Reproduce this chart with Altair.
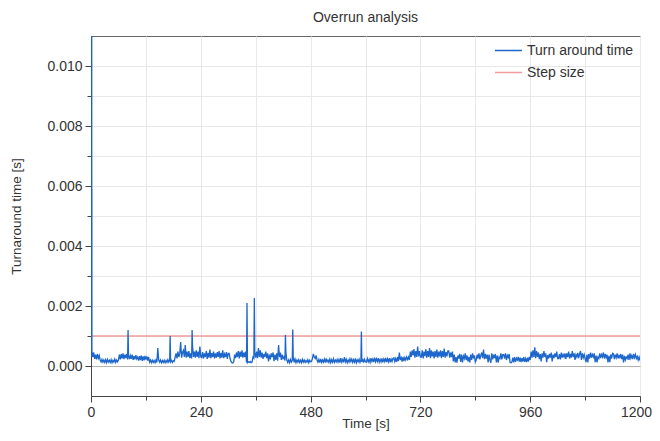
import altair as alt
import pandas as pd

# Turnaround time samples on a 2 s grid (t = 2, 4, ..., 1200), in microseconds; one row per minute
grid_start, grid_step = 2, 2
turnaround_us = [
    500, 300, 450, 240, 380, 220, 400, 260, 350, 200, 140, 220, 130, 200, 120, 210, 110, 220, 130, 190, 120, 210, 110, 190, 130, 230, 120, 200, 140, 210,
    380, 220, 400, 250, 420, 230, 380, 260, 400, 220, 360, 230, 350, 240, 380, 200, 330, 220, 360, 240, 300, 180, 330, 200, 350, 170, 320, 190, 340, 210,
    320, 180, 300, 130, 200, 110, 190, 120, 180, 110, 200, 120, 600, 200, 130, 200, 110, 180, 120, 190, 110, 180, 120, 210, 130, 200, 140, 190, 120, 180,
    160, 300, 420, 250, 480, 300, 420, 800, 280, 450, 520, 300, 700, 280, 480, 300, 500, 260, 420, 250, 650, 300, 480, 280, 520, 300, 480, 260, 650, 300,
    280, 460, 250, 420, 300, 500, 240, 440, 280, 550, 260, 430, 300, 480, 250, 420, 280, 460, 300, 500, 250, 440, 280, 520, 260, 400, 300, 460, 240, 420,
    420, 250, 150, 110, 100, 140, 380, 260, 450, 300, 500, 250, 480, 300, 520, 280, 450, 300, 480, 120, 110, 140, 120, 150, 110, 130, 300, 260, 450, 280,
    480, 260, 600, 300, 520, 280, 450, 240, 400, 300, 480, 260, 420, 150, 380, 220, 420, 300, 450, 160, 380, 200, 420, 180, 700, 300, 450, 200, 380, 250,
    300, 180, 450, 200, 120, 200, 110, 220, 130, 190, 300, 120, 230, 110, 200, 130, 210, 120, 190, 110, 220, 130, 200, 120, 180, 130, 210, 110, 190, 140,
    150, 250, 400, 300, 250, 350, 200, 130, 220, 110, 240, 120, 200, 130, 230, 110, 250, 140, 200, 120, 230, 110, 210, 130, 240, 120, 200, 140, 220, 130,
    220, 110, 260, 130, 210, 120, 300, 140, 220, 110, 200, 130, 240, 150, 230, 120, 210, 130, 250, 110, 200, 140, 230, 120, 210, 130, 240, 110, 220, 140,
    130, 250, 140, 220, 120, 260, 150, 230, 130, 280, 140, 240, 150, 260, 130, 220, 140, 250, 120, 230, 150, 270, 130, 240, 140, 260, 120, 230, 150, 250,
    270, 150, 250, 140, 300, 160, 450, 200, 280, 150, 300, 160, 280, 200, 300, 220, 300, 200, 480, 300, 520, 350, 560, 280, 500, 300, 650, 320, 500, 300,
    300, 520, 250, 480, 330, 560, 280, 500, 300, 600, 260, 520, 320, 480, 250, 500, 300, 550, 280, 480, 320, 520, 260, 500, 300, 580, 280, 460, 320, 500,
    500, 280, 450, 300, 480, 150, 380, 120, 300, 110, 350, 250, 400, 140, 380, 120, 330, 250, 420, 200, 350, 150, 300, 120, 380, 200, 420, 250, 350, 130,
    200, 380, 250, 420, 220, 350, 450, 260, 550, 230, 400, 250, 380, 120, 380, 200, 110, 420, 220, 380, 260, 400, 120, 350, 110, 300, 250, 420, 220, 380,
    380, 250, 420, 200, 350, 280, 400, 120, 110, 130, 280, 120, 300, 140, 260, 200, 300, 150, 280, 130, 260, 150, 300, 140, 250, 130, 280, 150, 300, 200,
    480, 280, 520, 300, 620, 260, 500, 300, 450, 230, 400, 150, 420, 280, 500, 300, 420, 130, 360, 250, 400, 280, 450, 150, 380, 260, 420, 300, 480, 250,
    250, 400, 220, 450, 280, 380, 300, 420, 240, 420, 300, 480, 250, 400, 280, 500, 300, 420, 200, 380, 300, 440, 260, 400, 500, 200, 420, 280, 380, 250,
    130, 380, 120, 400, 250, 450, 280, 380, 300, 420, 130, 350, 120, 300, 250, 420, 260, 380, 300, 450, 250, 400, 280, 380, 120, 340, 130, 380, 250, 420,
    400, 230, 380, 280, 420, 250, 350, 280, 400, 230, 380, 120, 340, 200, 300, 250, 380, 200, 420, 260, 350, 230, 400, 280, 380, 250, 320, 200, 300, 180,
]

# Isolated spikes (time in s, value in microseconds)
spike_times = [1.6, 1.75, 1.9, 81, 173, 221, 341, 357, 425, 441, 591]
spike_us = [11000, 300, 5900, 1200, 1000, 1200, 2100, 2270, 1030, 1220, 1150]

# Step size reference
step_times = [0, 1200]
step_values = [0.001, 0.001]

series_names = ["Turn around time", "Step size"]
series_colors = ["#1c66cc", "#f29c9c"]

rows = []
for i, v in enumerate(turnaround_us):
    rows.append({"t": grid_start + grid_step * i, "v": v / 1e6, "s": series_names[0]})
for t, v in zip(spike_times, spike_us):
    rows.append({"t": t, "v": v / 1e6, "s": series_names[0]})
for t, v in zip(step_times, step_values):
    rows.append({"t": t, "v": v, "s": series_names[1]})
df = pd.DataFrame(rows).sort_values(["s", "t"])

FONT = "Liberation Sans"

x_vals = list(range(0, 1201, 120))
y_vals = [i / 1000 for i in range(0, 11)]

chart = alt.Chart(df).mark_line(strokeWidth=1.3, clip=True).encode(
    x=alt.X("t:Q", title="Time [s]",
            scale=alt.Scale(domain=[0, 1200], nice=False, zero=False),
            axis=alt.Axis(values=x_vals,
                          labelExpr="datum.value % 240 === 0 ? format(datum.value, 'd') : ''",
                          tickSize=alt.expr("datum.value % 240 === 0 ? 6 : 4"),
                          labelOffset=alt.expr("datum.value === 1200 ? -4 : 0"),
                          grid=True, labelFlush=False, titlePadding=-3, zindex=0)),
    y=alt.Y("v:Q", title="Turnaround time [s]",
            scale=alt.Scale(domain=[-0.001, 0.011], nice=False, zero=False),
            axis=alt.Axis(values=y_vals,
                          labelExpr="round(datum.value*1000) % 2 === 0 ? format(datum.value, '.3f') : ''",
                          tickSize=alt.expr("round(datum.value*1000) % 2 === 0 ? 6 : 4"),
                          gridColor=alt.expr("abs(datum.value) < 1e-9 ? '#b0b0b0' : '#e8e8e8'"),
                          grid=True, titlePadding=23, zindex=0)),
    color=alt.Color("s:N", scale=alt.Scale(domain=series_names, range=series_colors),
                    legend=alt.Legend(title=None, orient="none", legendX=403, legendY=0,
                                      symbolType="stroke", symbolSize=729,
                                      symbolStrokeWidth=1.5, labelFontSize=14,
                                      labelFont=FONT, labelColor="#333", labelOffset=4,
                                      rowPadding=-4, padding=0)),
    order=alt.Order("t:Q"),
).properties(
    width=549, height=360,
    title=alt.TitleParams("Overrun analysis", fontSize=14, font=FONT, color="#333",
                          fontWeight="normal", anchor="middle", offset=11),
    autosize=alt.AutoSizeParams(type="none"),
    padding={"left": 83, "top": 28, "right": 12, "bottom": 37},
).configure_view(
    stroke="#666", strokeWidth=1
).configure_axis(
    labelFont=FONT, labelFontSize=14, labelColor="#333",
    titleFont=FONT, titleFontSize=13.5, titleColor="#333", titleFontWeight="normal",
    domainColor="#444", tickColor="#444", gridColor="#e8e8e8", gridWidth=1,
    labelPadding=3,
)

chart.save("out.html", embed_options={"renderer": "svg", "actions": False})
